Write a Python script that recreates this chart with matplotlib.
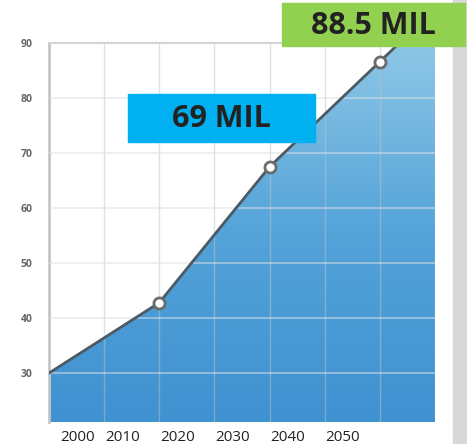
import numpy as np
import matplotlib
matplotlib.use("Agg")
import matplotlib.pyplot as plt
from matplotlib.colors import LinearSegmentedColormap
from matplotlib.patches import Rectangle

# data (x = grid step, 0..7)
x_steps = [0, 2, 4, 6, 7]
population = [30, 42.8, 67.5, 86.6, 96.2]
marker_steps = [2, 4, 6]
marker_values = [42.8, 67.5, 86.6]
year_labels = ["2000", "2010", "2020", "2030", "2040", "2050"]
year_pos = [0.51, 1.34, 2.33, 3.32, 4.32, 5.32]
y_ticks = [30, 40, 50, 60, 70, 80, 90]

plt.rcParams['font.family'] = ['Open Sans', 'DejaVu Sans']

fig = plt.figure(figsize=(4.67, 4.44), dpi=100)
ax = fig.add_axes([0.105, 0.0495, 0.8265, 0.8537])
ax.set_xlim(0, 7)
ax.set_ylim(21.1, 90)

# gradient fill under the line
fill = ax.fill_between(x_steps, population, 0, color='none', lw=0)
cmap = LinearSegmentedColormap.from_list('b', ['#3f91d0', '#54a3d9', '#8ec7e6'])
grad = np.linspace(0, 1, 256).reshape(-1, 1)
img = ax.imshow(grad, cmap=cmap, aspect='auto', extent=[0, 7, 21.1, 90],
                origin='lower', zorder=1)
img.set_clip_path(fill.get_paths()[0], transform=ax.transData)

# grid
ax.set_xticks(range(0, 8), minor=True)
ax.set_yticks(y_ticks)
ax.grid(True, which='minor', axis='x', color='#b8c4cc', lw=1, alpha=0.5, zorder=2)
ax.grid(True, which='major', axis='y', color='#dde2e5', lw=1.2, alpha=0.6, zorder=2)
ax.set_axisbelow(False)

ax.plot(x_steps, population, color='#4d5a63', lw=2, zorder=3)
ax.plot(marker_steps, marker_values, 'o', ms=8, mfc='white', mec='#6b6b6b', mew=2, zorder=4)

ax.set_xticks(year_pos, year_labels)
ax.tick_params(axis='x', which='both', length=0, labelsize=11, colors='#222222', pad=6)
ax.tick_params(axis='y', length=0, labelsize=7.5, colors='#666666', pad=12)
for lb in ax.get_yticklabels():
    lb.set_fontweight('bold')

for side in ['right', 'bottom']:
    ax.spines[side].set_visible(False)
ax.spines['left'].set_color('#c8c8c8')
ax.spines['left'].set_linewidth(2)
ax.spines['top'].set_color('#d0d0d0')
ax.spines['top'].set_linewidth(1.5)

# grey bar at the right edge
fig.patches.append(Rectangle((453 / 467, 0), 14 / 467, 1, transform=fig.transFigure,
                             color='#d6d8da', zorder=0))

# label boxes
fig.patches.append(Rectangle((128 / 467, 1 - 142 / 444), 187 / 467, 48 / 444,
                             transform=fig.transFigure, color='#00b0f0', zorder=5))
fig.patches.append(Rectangle((282 / 467, 1 - 46 / 444), 183 / 467, 43 / 444,
                             transform=fig.transFigure, color='#92d050', zorder=5))
fig.text(221 / 467, 1 - 119 / 444, "69 MIL", ha='center', va='center', fontsize=22,
         fontweight='bold', color='#222222', zorder=6)
fig.text(373 / 467, 1 - 26 / 444, "88.5 MIL", ha='center', va='center', fontsize=22,
         fontweight='bold', color='#222222', zorder=6)

fig.savefig("out.png", dpi=100)
